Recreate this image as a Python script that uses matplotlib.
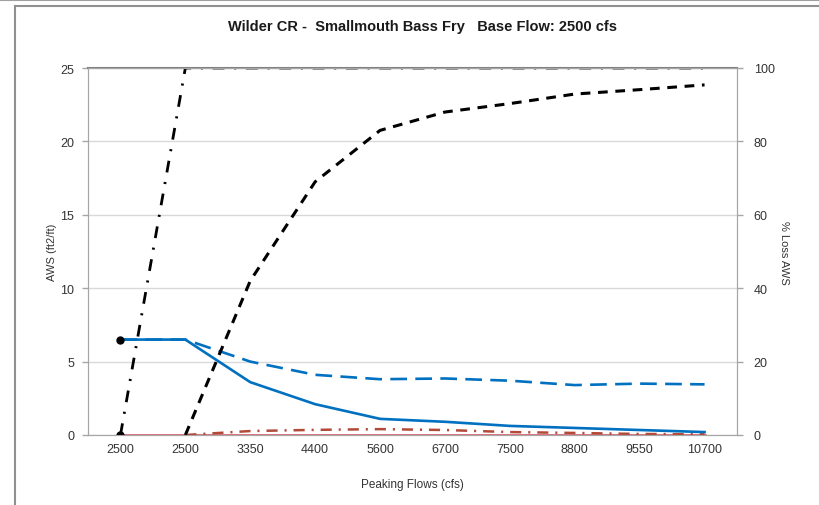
import numpy as np
import matplotlib.pyplot as plt
from matplotlib.lines import Line2D

plt.rcParams['font.family'] = ['Liberation Sans', 'DejaVu Sans']
plt.rcParams['lines.scale_dashes'] = False

# chart data
flows = ['2500', '2500', '3350', '4400', '5600', '6700', '7500', '8800', '9550', '10700']
aws_solid = [6.5, 6.5, 3.6, 2.1, 1.1, 0.9, 0.62, 0.48, 0.34, 0.2]
aws_dashed = [6.5, 6.5, 5.0, 4.1, 3.8, 3.85, 3.7, 3.4, 3.5, 3.45]
aws_red = [0, 0, 0, 0, 0, 0, 0, 0, 0, 0]
aws_red_dd = [np.nan, 0, 0.27, 0.35, 0.4, 0.34, 0.2, 0.14, 0.07, 0.05]
loss_dashdot = [0, 100, 100, 100, 100, 100, 100, 100, 100, 100]
loss_dashed = [np.nan, 0, 42, 69, 83, 88, 90.3, 92.9, 94.1, 95.4]

x = np.arange(len(flows))

fig = plt.figure(figsize=(8.2, 5.06), dpi=100)
ax = fig.add_axes([88/820, 70/506, 649/820, 367/506])
ax2 = ax.twinx()

ax.plot(x, aws_red, color='#d9485a', lw=1.8, zorder=3)
ax.plot(x, aws_red_dd, color='#b24a3a', lw=1.8, dashes=(8, 5, 1.5, 5), zorder=3)
ax.plot(x, aws_dashed, color='#0070c0', lw=1.9, dashes=(12, 6), zorder=3)
ax.plot(x, aws_solid, color='#0070c0', lw=1.9, zorder=4)
ax.plot(x[0], aws_solid[0], 'o', color='black', ms=5, zorder=5)

ax2.plot(x, loss_dashdot, color='black', lw=2.0, dashes=(8.5, 7, 1.5, 7))
ax2.plot(x, loss_dashed, color='black', lw=2.2, dashes=(7, 5.5))
ax2.plot(x[0], loss_dashdot[0], 'o', color='black', ms=5)

ax.set_xlim(-0.5, len(flows) - 0.5)
ax.set_ylim(0, 25)
ax2.set_ylim(0, 100)
ax.set_yticks([0, 5, 10, 15, 20, 25])
ax2.set_yticks([0, 20, 40, 60, 80, 100])
ax.set_xticks(x)
ax.set_xticklabels(flows)

ax.yaxis.grid(True, color='#d9d9d9', lw=1)
ax.set_axisbelow(True)
for a in (ax, ax2):
    for s in a.spines.values():
        s.set_color('#a6a6a6')
    a.tick_params(colors='#a6a6a6', labelcolor='#333333', labelsize=9, length=4, width=1)
ax.spines['top'].set_color('#808080')
ax.spines['top'].set_linewidth(1.5)
ax.tick_params(axis='x', length=0, pad=6)
ax.tick_params(axis='y', pad=6)
ax2.tick_params(axis='y', pad=8)

ax.set_ylabel('AWS (ft2/ft)', fontsize=8, color='#333333', labelpad=2)
ax2.set_ylabel('% Loss AWS', fontsize=8, color='#333333', rotation=270, labelpad=10)
ax.set_xlabel('Peaking Flows (cfs)', fontsize=8.5, color='#333333', labelpad=16)

fig.text(423/820, 1 - 27/506, 'Wilder CR -  Smallmouth Bass Fry   Base Flow: 2500 cfs',
         ha='center', va='center', fontsize=10.5, fontweight='bold', color='#1a1a1a')

# chart frame
fig.add_artist(Line2D([0, 1], [1 - 1/506, 1 - 1/506], color='#a0a0a0', lw=1.5))
fig.add_artist(Line2D([15/820, 1], [1 - 7/506, 1 - 7/506], color='#909090', lw=1.5))
fig.add_artist(Line2D([15/820, 15/820], [0, 1 - 7/506], color='#909090', lw=1.5))

fig.savefig('out.png', dpi=100)
